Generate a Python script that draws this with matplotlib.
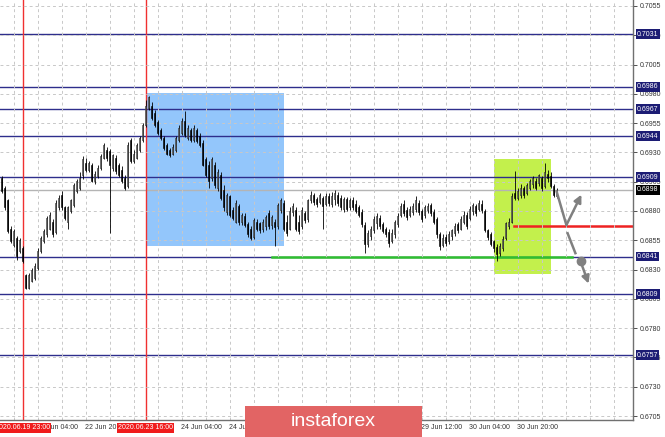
import matplotlib.pyplot as plt
import matplotlib.transforms as mtransforms
from matplotlib.patches import Rectangle
import numpy as np

plt.rcParams['font.family'] = ['Liberation Sans', 'DejaVu Sans']

# H1 candles, 19 Jun 16:00 .. 1 Jul 09:00 (index = candle number)
opens = [0.6908, 0.6900, 0.6889, 0.6865, 0.6851, 0.6857, 0.6846, 0.6848, 0.6825, 0.6814,
         0.6820, 0.6823, 0.6831, 0.6846, 0.6854, 0.6860, 0.6865, 0.6871, 0.6862, 0.6883,
         0.6894, 0.6883, 0.6871, 0.6880, 0.6885, 0.6897, 0.6900, 0.6911, 0.6921, 0.6915,
         0.6919, 0.6906, 0.6910, 0.6917, 0.6925, 0.6932, 0.6931, 0.6917, 0.6925, 0.6919,
         0.6915, 0.6908, 0.6901, 0.6941, 0.6923, 0.6925, 0.6932, 0.6941, 0.6953, 0.6968,
         0.6970, 0.6964, 0.6956, 0.6949, 0.6942, 0.6936, 0.6932, 0.6929, 0.6932, 0.6941,
         0.6947, 0.6957, 0.6942, 0.6949, 0.6941, 0.6949, 0.6944, 0.6938, 0.6924, 0.6919,
         0.6908, 0.6919, 0.6900, 0.6911, 0.6898, 0.6879, 0.6893, 0.6881, 0.6871, 0.6884,
         0.6871, 0.6876, 0.6869, 0.6865, 0.6858, 0.6871, 0.6870, 0.6865, 0.6867, 0.6878,
         0.6868, 0.6871, 0.6867, 0.6881, 0.6887, 0.6871, 0.6865, 0.6879, 0.6881, 0.6871,
         0.6867, 0.6878, 0.6873, 0.6889, 0.6894, 0.6890, 0.6888, 0.6891, 0.6886, 0.6893,
         0.6886, 0.6890, 0.6894, 0.6891, 0.6882, 0.6890, 0.6883, 0.6889, 0.6886, 0.6883,
         0.6879, 0.6868, 0.6852, 0.6859, 0.6864, 0.6870, 0.6874, 0.6869, 0.6865, 0.6862,
         0.6854, 0.6860, 0.6869, 0.6877, 0.6886, 0.6881, 0.6877, 0.6879, 0.6882, 0.6887,
         0.6880, 0.6877, 0.6881, 0.6885, 0.6879, 0.6873, 0.6860, 0.6851, 0.6858, 0.6854,
         0.6859, 0.6861, 0.6869, 0.6865, 0.6871, 0.6877, 0.6874, 0.6880, 0.6884, 0.6882,
         0.6886, 0.6880, 0.6864, 0.6860, 0.6854, 0.6849, 0.6844, 0.6848, 0.6857, 0.6867,
         0.6871, 0.6895, 0.6891, 0.6894, 0.6900, 0.6895, 0.6900, 0.6903, 0.6906, 0.6904,
         0.6908, 0.6901, 0.6912, 0.6910, 0.6901, 0.6893]
highs = [0.6910, 0.6901, 0.6890, 0.6867, 0.6865, 0.6859, 0.6857, 0.6850, 0.6826, 0.6827,
         0.6831, 0.6836, 0.6848, 0.6859, 0.6865, 0.6876, 0.6879, 0.6873, 0.6889, 0.6894,
         0.6897, 0.6884, 0.6884, 0.6890, 0.6904, 0.6907, 0.6913, 0.6927, 0.6925, 0.6923,
         0.6921, 0.6914, 0.6919, 0.6929, 0.6938, 0.6935, 0.6933, 0.6929, 0.6928, 0.6921,
         0.6918, 0.6911, 0.6939, 0.6942, 0.6932, 0.6938, 0.6944, 0.6955, 0.6975, 0.6978,
         0.6973, 0.6966, 0.6958, 0.6951, 0.6944, 0.6938, 0.6934, 0.6937, 0.6944, 0.6953,
         0.6959, 0.6965, 0.6953, 0.6951, 0.6953, 0.6951, 0.6947, 0.6941, 0.6926, 0.6923,
         0.6926, 0.6922, 0.6916, 0.6913, 0.6902, 0.6895, 0.6894, 0.6883, 0.6889, 0.6886,
         0.6878, 0.6878, 0.6871, 0.6867, 0.6874, 0.6873, 0.6871, 0.6873, 0.6877, 0.6881,
         0.6877, 0.6873, 0.6887, 0.6891, 0.6889, 0.6877, 0.6883, 0.6887, 0.6883, 0.6877,
         0.6883, 0.6880, 0.6890, 0.6897, 0.6895, 0.6892, 0.6895, 0.6893, 0.6895, 0.6895,
         0.6896, 0.6898, 0.6896, 0.6894, 0.6892, 0.6892, 0.6891, 0.6892, 0.6889, 0.6885,
         0.6882, 0.6871, 0.6864, 0.6867, 0.6876, 0.6878, 0.6877, 0.6871, 0.6866, 0.6865,
         0.6865, 0.6872, 0.6878, 0.6887, 0.6889, 0.6883, 0.6884, 0.6887, 0.6893, 0.6889,
         0.6882, 0.6885, 0.6887, 0.6887, 0.6882, 0.6875, 0.6862, 0.6860, 0.6860, 0.6863,
         0.6865, 0.6870, 0.6871, 0.6876, 0.6880, 0.6879, 0.6884, 0.6887, 0.6886, 0.6889,
         0.6889, 0.6882, 0.6865, 0.6862, 0.6855, 0.6852, 0.6853, 0.6859, 0.6871, 0.6874,
         0.6895, 0.6914, 0.6900, 0.6903, 0.6901, 0.6904, 0.6907, 0.6910, 0.6908, 0.6912,
         0.6910, 0.6921, 0.6915, 0.6913, 0.6903, 0.6900]
lows = [0.6895, 0.6881, 0.6861, 0.6853, 0.6849, 0.6838, 0.6844, 0.6836, 0.6813, 0.6813,
        0.6819, 0.6821, 0.6830, 0.6844, 0.6853, 0.6858, 0.6864, 0.6858, 0.6860, 0.6881,
        0.6881, 0.6872, 0.6865, 0.6878, 0.6883, 0.6895, 0.6898, 0.6907, 0.6913, 0.6913,
        0.6905, 0.6903, 0.6908, 0.6915, 0.6924, 0.6923, 0.6861, 0.6914, 0.6912, 0.6909,
        0.6904, 0.6898, 0.6900, 0.6921, 0.6921, 0.6924, 0.6930, 0.6939, 0.6952, 0.6966,
        0.6958, 0.6952, 0.6945, 0.6941, 0.6932, 0.6928, 0.6926, 0.6928, 0.6930, 0.6939,
        0.6945, 0.6943, 0.6941, 0.6939, 0.6939, 0.6938, 0.6935, 0.6918, 0.6909, 0.6900,
        0.6906, 0.6900, 0.6897, 0.6889, 0.6880, 0.6877, 0.6875, 0.6872, 0.6870, 0.6868,
        0.6868, 0.6866, 0.6858, 0.6855, 0.6856, 0.6863, 0.6861, 0.6862, 0.6864, 0.6865,
        0.6865, 0.6850, 0.6865, 0.6878, 0.6863, 0.6859, 0.6864, 0.6876, 0.6863, 0.6860,
        0.6865, 0.6870, 0.6871, 0.6887, 0.6885, 0.6883, 0.6886, 0.6865, 0.6884, 0.6884,
        0.6883, 0.6885, 0.6884, 0.6881, 0.6879, 0.6880, 0.6881, 0.6881, 0.6878, 0.6875,
        0.6866, 0.6844, 0.6849, 0.6855, 0.6861, 0.6865, 0.6865, 0.6861, 0.6858, 0.6849,
        0.6853, 0.6857, 0.6866, 0.6875, 0.6876, 0.6872, 0.6875, 0.6877, 0.6879, 0.6877,
        0.6871, 0.6874, 0.6878, 0.6876, 0.6869, 0.6857, 0.6847, 0.6849, 0.6850, 0.6852,
        0.6855, 0.6859, 0.6861, 0.6864, 0.6869, 0.6865, 0.6872, 0.6877, 0.6876, 0.6880,
        0.6878, 0.6862, 0.6855, 0.6850, 0.6845, 0.6837, 0.6842, 0.6846, 0.6855, 0.6865,
        0.6870, 0.6889, 0.6889, 0.6891, 0.6891, 0.6894, 0.6898, 0.6900, 0.6898, 0.6901,
        0.6897, 0.6900, 0.6905, 0.6900, 0.6892, 0.6891]
closes = [0.6897, 0.6883, 0.6863, 0.6854, 0.6863, 0.6842, 0.6855, 0.6837, 0.6814, 0.6825,
          0.6830, 0.6833, 0.6846, 0.6857, 0.6863, 0.6874, 0.6877, 0.6860, 0.6887, 0.6891,
          0.6883, 0.6874, 0.6883, 0.6889, 0.6902, 0.6906, 0.6908, 0.6924, 0.6915, 0.6921,
          0.6906, 0.6912, 0.6917, 0.6927, 0.6936, 0.6925, 0.6919, 0.6928, 0.6914, 0.6911,
          0.6906, 0.6900, 0.6936, 0.6923, 0.6929, 0.6936, 0.6942, 0.6953, 0.6970, 0.6977,
          0.6959, 0.6953, 0.6947, 0.6942, 0.6934, 0.6929, 0.6928, 0.6935, 0.6942, 0.6951,
          0.6957, 0.6945, 0.6951, 0.6941, 0.6951, 0.6940, 0.6936, 0.6919, 0.6911, 0.6906,
          0.6924, 0.6902, 0.6913, 0.6891, 0.6883, 0.6894, 0.6877, 0.6874, 0.6887, 0.6871,
          0.6877, 0.6868, 0.6860, 0.6857, 0.6872, 0.6865, 0.6864, 0.6871, 0.6875, 0.6867,
          0.6875, 0.6866, 0.6885, 0.6889, 0.6865, 0.6861, 0.6880, 0.6884, 0.6865, 0.6863,
          0.6881, 0.6872, 0.6889, 0.6894, 0.6888, 0.6886, 0.6894, 0.6884, 0.6893, 0.6887,
          0.6893, 0.6895, 0.6887, 0.6883, 0.6890, 0.6882, 0.6889, 0.6883, 0.6880, 0.6877,
          0.6869, 0.6852, 0.6861, 0.6865, 0.6873, 0.6876, 0.6867, 0.6863, 0.6860, 0.6853,
          0.6861, 0.6871, 0.6876, 0.6884, 0.6878, 0.6875, 0.6882, 0.6884, 0.6889, 0.6879,
          0.6873, 0.6883, 0.6884, 0.6878, 0.6871, 0.6860, 0.6850, 0.6857, 0.6853, 0.6860,
          0.6864, 0.6867, 0.6864, 0.6873, 0.6877, 0.6867, 0.6882, 0.6885, 0.6878, 0.6887,
          0.6881, 0.6864, 0.6858, 0.6852, 0.6848, 0.6843, 0.6850, 0.6856, 0.6870, 0.6871,
          0.6893, 0.6891, 0.6897, 0.6900, 0.6894, 0.6902, 0.6906, 0.6908, 0.6900, 0.6911,
          0.6900, 0.6913, 0.6908, 0.6901, 0.6894, 0.6898]

levels = [0.7031, 0.6986, 0.6967, 0.6944, 0.6909, 0.6841, 0.6809, 0.6757]
current_price = 0.6898
red_level = 0.6867
green_level = 0.6841

time_pos = [12, 28, 44, 60, 76, 92, 108, 124, 140, 156, 172]
time_labels = ["22 Jun 04:00", "22 Jun 20:00", "23 Jun 12:00", "24 Jun 04:00",
               "24 Jun 20:00", "25 Jun 12:00", "26 Jun 04:00", "26 Jun 20:00",
               "29 Jun 12:00", "30 Jun 04:00", "30 Jun 20:00"]
marker_pos = [7, 48]
marker_labels = ["2020.06.19 23:00", "2020.06.23 16:00"]

NAVY = '#2e2e8c'

fig = plt.figure(figsize=(6.65, 4.37), dpi=100)
ax = fig.add_axes([0, 17 / 437, 633 / 665, 420 / 437])
ax.set_xlim(-0.5, 210.5)
ax.set_ylim(0.67016, 0.70601)

# grid
ax.set_yticks(np.arange(0.6705, 0.7056, 0.0025))
ax.yaxis.set_major_formatter(plt.FormatStrFormatter('%.4f'))
ax.yaxis.tick_right()
ax.set_xticks(np.arange(4, 211, 8))
ax.set_xticklabels([])
ax.grid(True, color='#c8c8c8', linestyle=(0, (3, 3)), linewidth=0.7)
ax.tick_params(axis='y', labelsize=5, colors='#333333', length=3, pad=2, width=0.6)
ax.tick_params(axis='x', length=0)
for s in ['left', 'top']:
    ax.spines[s].set_visible(False)
for s in ['right', 'bottom']:
    ax.spines[s].set_color('#707070')
    ax.spines[s].set_linewidth(1)

# zones
ax.add_patch(Rectangle((48.3, 0.6850), 94.0 - 48.3, 0.6981 - 0.6850,
                       facecolor='#93c6fb', edgecolor='none', zorder=0.5))
ax.add_patch(Rectangle((164.3, 0.6826), 183.0 - 164.3, 0.6924 - 0.6826,
                       facecolor='#c3f04c', edgecolor='none', zorder=0.5))

# levels
for lv in levels:
    ax.axhline(lv, color=NAVY, linewidth=1, zorder=1)
ax.axhline(current_price, color='#b4b4b4', linewidth=1, zorder=1)
for mp in marker_pos:
    ax.axvline(mp, color='#f03030', linewidth=1, zorder=1)
ax.plot([170.7, 210.5], [red_level, red_level], color='#ee2222', linewidth=1.8, zorder=1.2)
ax.plot([90, 190], [green_level, green_level], color='#2fbf2f', linewidth=1.8, zorder=1.2)

# candles
x = np.arange(len(closes))
o = np.array(opens)
c = np.array(closes)
ax.vlines(x, lows, highs, color='black', linewidth=0.6, zorder=2)
bottom = np.minimum(o, c)
height = np.maximum(np.abs(c - o), 0.00003)
fill = np.where(c >= o, 'white', 'black')
ax.bar(x, height, bottom=bottom, width=0.62, color=fill, edgecolor='black',
       linewidth=0.4, zorder=2.5)

# scenario arrows
arrow_kw = dict(arrowstyle='-|>', color='#808080', lw=1.8, mutation_scale=11,
                shrinkA=0, shrinkB=0)
ax.plot([185, 188.3], [0.6897, 0.6868], color='#808080', lw=1.8, zorder=3,
        solid_capstyle='round')
ax.annotate('', xy=(193.3, 0.6894), xytext=(188.3, 0.6868), arrowprops=arrow_kw, zorder=3)
ax.plot([188.7, 191.3], [0.6861, 0.6844], color='#808080', lw=1.8, zorder=3)
ax.plot([193.0], [0.6837], 'o', color='#808080', markersize=6, zorder=3)
ax.annotate('', xy=(195.7, 0.6818), xytext=(193.3, 0.6835), arrowprops=arrow_kw, zorder=3)

# price labels on the right axis
ytr = mtransforms.blended_transform_factory(ax.transAxes, ax.transData)
for lv in levels:
    ax.text(1.006, lv, '%.4f' % lv, transform=ytr, fontsize=5, color='white',
            ha='left', va='center', clip_on=False, zorder=6,
            bbox=dict(boxstyle='square,pad=0.18', fc='#1c1c74', ec='none'))
ax.text(1.006, current_price, '%.4f' % current_price, transform=ytr, fontsize=5,
        color='white', ha='left', va='center', clip_on=False, zorder=6,
        bbox=dict(boxstyle='square,pad=0.18', fc='black', ec='none'))

# time labels
xtr = mtransforms.blended_transform_factory(ax.transData, ax.transAxes)
for pos, lab in zip(time_pos, time_labels):
    ax.text(pos - 0.3, -0.019, lab, transform=xtr, fontsize=5, color='#333333',
            ha='left', va='center', clip_on=False, zorder=4)
for pos, lab in zip(marker_pos, marker_labels):
    ax.text(pos, -0.019, lab, transform=xtr, fontsize=5, color='white',
            ha='center', va='center', clip_on=False, zorder=5,
            bbox=dict(boxstyle='square,pad=0.2', fc='#f01c1c', ec='none'))

# watermark
fig.patches.append(Rectangle((245 / 665, 0), 177 / 665, 31 / 437, transform=fig.transFigure,
                             facecolor='#e26464', edgecolor='none', zorder=10))
fig.text(333 / 665, 15 / 437, 'instaforex', color='white', fontsize=14,
         ha='center', va='center', zorder=11)

fig.savefig('out.png', dpi=100)
